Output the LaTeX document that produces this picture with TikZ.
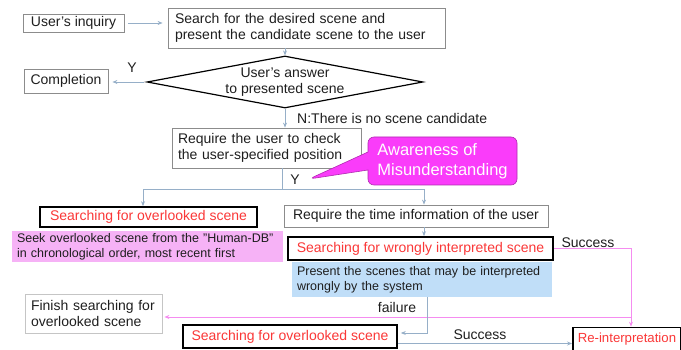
\documentclass[tikz,border=0pt]{standalone}
\usepackage{fontspec}
\setmainfont{Liberation Sans}
\usetikzlibrary{shapes.geometric,shapes.callouts,arrows.meta}
\definecolor{lnk}{RGB}{150,175,200}
\definecolor{bdr}{RGB}{140,140,140}
\definecolor{hot}{RGB}{250,55,55}
\definecolor{pk}{RGB}{246,178,246}
\definecolor{pkl}{RGB}{245,140,240}
\definecolor{bl}{RGB}{192,222,248}
\definecolor{mag}{RGB}{250,60,250}
\definecolor{txt}{RGB}{30,30,30}
\newcommand{\mtxt}{\fontsize{14}{16}\selectfont}
\newcommand{\stxt}{\fontsize{12.5}{15}\selectfont}

\begin{document}
\begin{tikzpicture}[x=1pt,y=-1pt]
                \tikzstyle{box}=[draw=bdr, line width=0.8pt, inner sep=0pt, font=\mtxt, text=txt]
                \tikzstyle{hbox}=[draw=black, line width=1.6pt, inner sep=0pt, font=\mtxt, text=hot]
                \tikzstyle{note}=[inner xsep=5pt, inner ysep=0pt, font=\stxt, text=txt, align=left]
                \tikzstyle{lab}=[font=\mtxt, text=txt, inner sep=0pt]
                \tikzstyle{arr}=[draw=lnk, line width=0.8pt, -{Stealth[length=5pt,width=4pt]}]
                \tikzstyle{parr}=[draw=pkl, line width=0.9pt, -{Stealth[length=5pt,width=4pt]}]

                \useasboundingbox (0,0) rectangle (681,350);
                \clip (0,0) rectangle (681,350);

                \node[box, minimum width=101pt, minimum height=18pt] (inq) at (73.5,23) {User's inquiry};
                \node[box, minimum height=40pt, text width=263pt, inner xsep=7pt, align=left] (srch) at (306.5,28) {Search for the desired scene and\\present the candidate scene to the user};
                \node[diamond, draw=black, line width=1.2pt, minimum width=276pt, minimum height=52pt, inner sep=0pt] (dia) at (285,82) {};
                \node[lab, align=center] (ask) at (dia.center) {User's answer\\to presented scene};
                \node[box, minimum width=84pt, minimum height=24pt] (done) at (66,81) {Completion};
                \node[lab] (y1) at (132,68) {Y};
                \node[lab, anchor=west] (nlab) at (297,118) {N:There is no scene candidate};
                \node[box, minimum height=40pt, text width=177pt, inner xsep=6pt, align=left] (chk) at (266.5,148) {Require the user to check\\the user-specified position};
                \node[rectangle callout, rounded corners=6pt, fill=mag, draw=mag!70!black, line width=0.6pt, text=white, font=\fontsize{16.5}{20}\selectfont, align=left, minimum width=149pt, minimum height=48pt, inner xsep=5pt, callout absolute pointer={(309,179)}, callout pointer width=18pt] (aware) at (442.5,161) {Awareness of\\Misunderstanding};
                \node[lab] (y2) at (295,180) {Y};

                \node[hbox, minimum width=217pt, minimum height=20pt] (ovl1) at (148.5,217) {Searching for overlooked scene};
                \node[note, fill=pk, minimum height=31pt, text width=261pt] (seek) at (147.5,247) {Seek overlooked scene from the "Human-DB"\\in chronological order, most recent first};
                \node[box, minimum width=264pt, minimum height=22pt] (time) at (416,216) {Require the time information of the user};
                \node[note, fill=bl, minimum height=35pt, text width=250pt] (pres) at (422,279.5) {Present the scenes that may be interpreted\\wrongly by the system};
                \node[hbox, minimum width=265pt, minimum height=23pt] (wrong) at (420.5,248.5) {Searching for wrongly interpreted scene};
                \node[lab] (s1) at (588,243) {Success};

                \node[box, draw=bdr!50, minimum height=39pt, text width=125pt, inner xsep=6pt, align=left] (fin) at (93.5,313.5) {Finish searching for\\overlooked scene};
                \node[lab] (fl) at (397,307) {failure};
                \node[hbox, minimum width=214pt, minimum height=23pt] (ovl2) at (290,336.5) {Searching for overlooked scene};
                \node[hbox, anchor=west, minimum height=24pt, inner xsep=5pt, font=\fontsize{13.2}{16}\selectfont] (reint) at (572,339.5) {Re-interpretation};
                \node[lab] (s2) at (480,335) {Success};

                \coordinate (br) at (282,189);
                \coordinate (bl) at (143,189);
                \coordinate (bx) at (424,189);
                \coordinate (pc) at (631,317);
                \coordinate (fc) at (427,333);

                \draw[arr, shorten >=5pt, shorten <=4pt] (inq.east) -- (inq.east -| srch.west);
                \draw[arr] (dia.north |- srch.south) -- (dia.north);
                \draw[arr, shorten >=4pt, shorten <=2pt] (dia.west) -- (dia.west -| done.east);
                \draw[arr] (dia.south) -- (dia.south |- chk.north);
                \draw[draw=lnk, line width=0.8pt] (br |- chk.south) -- (br);
                \draw[arr] (bx) -- (bl) -- (bl |- ovl1.north);
                \draw[arr] (br) -- (bx) -- (bx |- time.north);
                \draw[arr] (time.south -| bx) -- (wrong.north -| bx);
                \draw[parr] (wrong.east) -- (wrong.east -| pc) -- (pc |- reint.north);
                \draw[parr, shorten >=2pt] (pc) -- (pc -| fin.east);
                \draw[arr, shorten >=3pt] (pres.south -| fc) -- (fc) -- (fc -| ovl2.east);
                \draw[arr] ([yshift=-7pt]ovl2.east) -- ([yshift=-7pt]ovl2.east -| reint.west);
            \end{tikzpicture}
\end{document}
